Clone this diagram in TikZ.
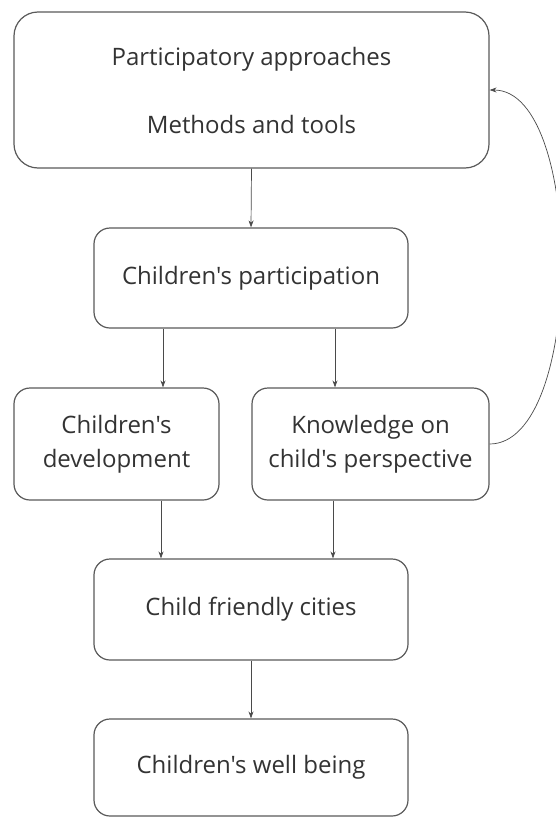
\documentclass[tikz,border=0pt]{standalone}
\usepackage{fontspec}
\setmainfont{Open Sans}[Ligatures=TeXOff]
\usetikzlibrary{arrows.meta}
\definecolor{boxline}{HTML}{5A5A5A}
\definecolor{arrline}{HTML}{4A4A4A}
\definecolor{txt}{HTML}{333333}
\begin{document}
\begin{tikzpicture}[x=1pt,y=-1pt,
  box/.style={draw=boxline, line width=1.2pt, rounded corners=16pt, inner sep=0pt,
    align=center, text=txt, font=\fontsize{24}{34}\selectfont},
  arr/.style={draw=arrline, line width=0.7pt, -{Stealth[length=7pt,width=5pt]}}]
\useasboundingbox[fill=white] (0,0) rectangle (556,817);
\node[box, rounded corners=24pt, minimum width=475pt, minimum height=156pt] (top) at (251.5,90)
  {Participatory approaches\\[34pt]Methods and tools};
\node[box, minimum width=314pt, minimum height=100pt] (part) at (251,278) {Children's participation};
\node[box, minimum width=205pt, minimum height=112pt] (dev) at (116.5,444) {Children's\\development};
\node[box, minimum width=237pt, minimum height=112pt] (know) at (370.5,444) {Knowledge on\\child's perspective};
\node[box, minimum width=314pt, minimum height=101pt] (city) at (251,609.5) {Child friendly cities};
\node[box, minimum width=314pt, minimum height=97pt] (well) at (251,767.5) {Children's well being};
\draw[arr] (top.south) -- (part.north);
\draw[arr] ([xshift=-88pt]part.south) -- ([xshift=46.5pt]dev.north);
\draw[arr] ([xshift=84pt]part.south) -- ([xshift=-35.5pt]know.north);
\draw[arr] ([xshift=44.5pt]dev.south) -- ([xshift=-90pt]city.north);
\draw[arr] ([xshift=-37.5pt]know.south) -- ([xshift=82pt]city.north);
\draw[arr] (city.south) -- (well.north);
\draw[arr] (know.east) .. controls (585,444) and (585,90) .. (top.east);
\end{tikzpicture}
\end{document}
